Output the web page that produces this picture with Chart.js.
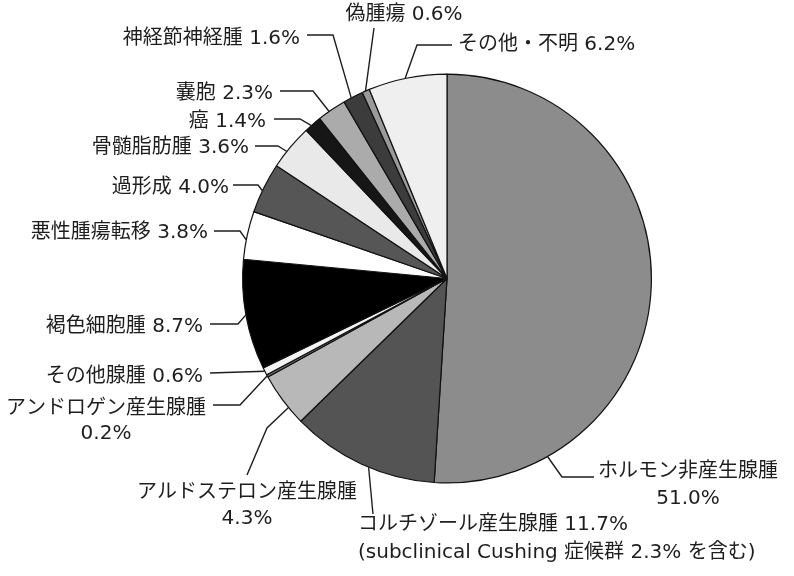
<!DOCTYPE html>
<html>
<head>
<meta charset="utf-8">
<script src="https://cdn.jsdelivr.net/npm/chart.js@4/dist/chart.umd.min.js"></script>
<style>
    body { margin: 0; background: #fff; }
    #wrap { width: 794px; height: 576px; position: relative; }
</style>
</head>
<body>
<div id="wrap"><canvas id="myChart"></canvas></div>
<script>
// data, clockwise from 12 o'clock
var categories = ['ホルモン非産生腺腫', 'コルチゾール産生腺腫', 'アルドステロン産生腺腫', 'アンドロゲン産生腺腫',
    'その他腺腫', '褐色細胞腫', '悪性腫瘍転移', '過形成', '骨髄脂肪腫', '癌', '嚢胞', '神経節神経腫', '偽腫瘍', 'その他・不明'];
var percents = [51.0, 11.7, 4.3, 0.2, 0.6, 8.7, 3.8, 4.0, 3.6, 1.4, 2.3, 1.6, 0.6, 6.2];
var fills = ['#8c8c8c', '#545454', '#b8b8b8', '#6a6a6a', '#f4f4f4', '#000000', '#ffffff',
    '#565656', '#e9e9e9', '#161616', '#ababab', '#3c3c3c', '#9a9a9a', '#efefef'];

// label placement: where the leader leaves the slice (fraction of its angle),
// bends of the leader, and where the text sits
var labelLayout = [
    { frac: 0.82, path: [[562, 477], [594, 477]], align: 'center', x: 688, y: [472, 499],
      lines: ['ホルモン非産生腺腫', '{p}%'] },
    { frac: 0.45, path: [[373, 514]], align: 'left', x: 358, y: [525, 553],
      lines: ['コルチゾール産生腺腫 {p}%', '(subclinical Cushing 症候群 2.3% を含む)'] },
    { frac: 0.33, path: [[267, 428], [247, 475]], align: 'center', x: 247, y: [493, 519],
      lines: ['アルドステロン産生腺腫', '{p}%'] },
    { frac: 0.5, path: [[240, 405], [213, 405]], align: 'center', x: 106, y: [409, 434],
      lines: ['アンドロゲン産生腺腫', '{p}%'] },
    { frac: 0.5, path: [[210, 373]], align: 'right', x: 203, y: [377],
      lines: ['{c} {p}%'] },
    { frac: 0.5, path: [[238, 324], [210, 324]], align: 'right', x: 203, y: [327],
      lines: ['{c} {p}%'] },
    { frac: 0.4, path: [[240, 231], [214, 231]], align: 'right', x: 208, y: [233],
      lines: ['{c} {p}%'] },
    { frac: 0.44, path: [[258, 185], [233, 185]], align: 'right', x: 229, y: [188],
      lines: ['{c} {p}%'] },
    { frac: 0.38, path: [[278, 146], [255, 146]], align: 'right', x: 249, y: [148],
      lines: ['{c} {p}%'] },
    { frac: 0.4, path: [[300, 119], [274, 119]], align: 'right', x: 266, y: [122],
      lines: ['{c} {p}%'] },
    { frac: 0.4, path: [[313, 91], [280, 91]], align: 'right', x: 273, y: [94],
      lines: ['{c} {p}%'] },
    { frac: 0.4, path: [[333, 35], [307, 35]], align: 'right', x: 300, y: [39],
      lines: ['{c} {p}%'] },
    { frac: 0.45, path: [[374, 28]], align: 'center', x: 404, y: [15],
      lines: ['{c} {p}%'] },
    { frac: 0.47, path: [[417, 45], [452, 45]], align: 'left', x: 458, y: [45],
      lines: ['{c} {p}%'] }
];

var leaderLabels = {
    id: 'leaderLabels',
    afterDraw: function(chart) {
        var ctx = chart.ctx;
        var arcs = chart.getDatasetMeta(0).data;
        ctx.save();
        ctx.strokeStyle = '#1e1e1e';
        ctx.lineWidth = 1.4;
        ctx.fillStyle = '#1e1e1e';
        ctx.font = '20px "DejaVu Sans", "Noto Sans CJK JP", sans-serif';
        ctx.textBaseline = 'middle';
        arcs.forEach(function(arc, i) {
            var lay = labelLayout[i];
            var p = arc.getProps(['x', 'y', 'startAngle', 'endAngle', 'outerRadius'], true);
            var a = p.startAngle + (p.endAngle - p.startAngle) * lay.frac;
            ctx.beginPath();
            ctx.moveTo(p.x + Math.cos(a) * p.outerRadius, p.y + Math.sin(a) * p.outerRadius);
            lay.path.forEach(function(pt) { ctx.lineTo(pt[0], pt[1]); });
            ctx.stroke();

            ctx.textAlign = lay.align;
            lay.lines.forEach(function(t, k) {
                var s = t.replace('{c}', categories[i]).replace('{p}', percents[i].toFixed(1));
                ctx.fillText(s, lay.x, lay.y[k]);
            });
        });
        ctx.restore();
    }
};

var ctx = document.getElementById('myChart').getContext('2d');
var chart = new Chart(ctx, {
    type: 'pie',
    data: {
        labels: categories,
        datasets: [{
            data: percents,
            backgroundColor: fills,
            borderColor: '#111',
            borderWidth: 1.2
        }]
    },
    options: {
        responsive: true,
        maintainAspectRatio: false,
        animation: false,
        layout: {
            padding: { left: 242, right: 142, top: 73, bottom: 92 }
        },
        plugins: {
            legend: { display: false },
            tooltip: { enabled: false }
        }
    },
    plugins: [leaderLabels]
});
</script>
</body>
</html>
